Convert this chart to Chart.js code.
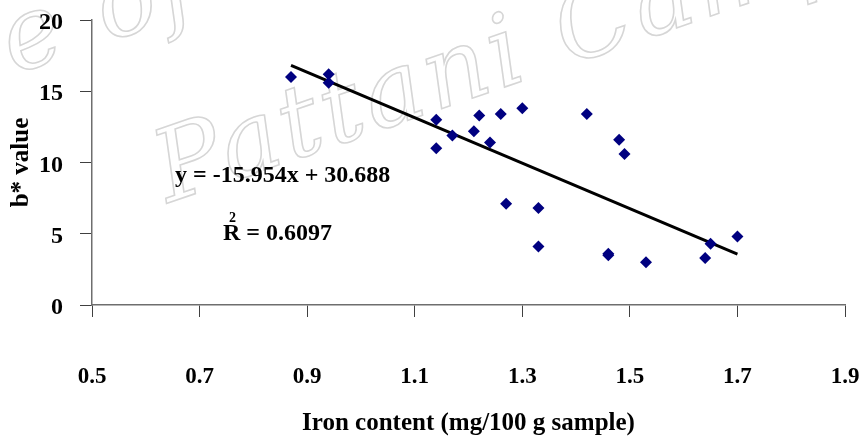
<!DOCTYPE html>
<html>
<head>
<meta charset="utf-8">
<script src="https://cdn.jsdelivr.net/npm/chart.js@4.4.0/dist/chart.umd.min.js"></script>
<style>
  html, body { margin: 0; padding: 0; background: #fff; }
  #caixa { width: 862px; height: 439px; }
</style>
</head>
<body>
<div id="caixa"><canvas id="grafico" width="862" height="439"></canvas></div>
<script>
// teor de ferro (mg/100 g) e valor b* de cada amostra
const teorFerro = [0.87, 0.94, 0.94, 1.14, 1.14, 1.17, 1.21, 1.22, 1.24, 1.26, 1.30, 1.27,
  1.33, 1.33, 1.42, 1.48, 1.49, 1.46, 1.46, 1.53, 1.64, 1.65, 1.70];
const valorB = [16.0, 16.2, 15.6, 13.0, 11.0, 11.9, 12.2, 13.3, 11.4, 13.4, 13.8, 7.1,
  6.8, 4.1, 13.4, 11.6, 10.6, 3.6, 3.5, 3.0, 3.3, 4.3, 4.8];

// linha de tendência linear
const inclinacao = -15.954;
const intercepto = 30.688;
const r2 = 0.6097;

const ticksX = [0.5, 0.7, 0.9, 1.1, 1.3, 1.5, 1.7, 1.9];
const ticksY = [0, 5, 10, 15, 20];

const fonte = '"Liberation Serif", "Times New Roman", serif';

const pontos = teorFerro.map((x, i) => ({ x: x, y: valorB[i] }));
const xMin = Math.min(...teorFerro);
const xMax = Math.max(...teorFerro);
const linha = [xMin, xMax].map(x => ({ x: x, y: inclinacao * x + intercepto }));

// marca d'água ao fundo
const marcaDagua = {
  id: "marcaDagua",
  beforeDraw(chart) {
    const c = chart.ctx;
    c.save();
    c.fillStyle = "#fff";
    c.fillRect(0, 0, chart.width, chart.height);
    c.translate(168, 203);
    c.rotate(-19 * Math.PI / 180);
    c.font = "italic 100px 'DejaVu Serif'";
    c.letterSpacing = "4px";
    c.strokeStyle = "#d6d6d6";
    c.lineWidth = 1.6;
    c.strokeText("Pattani Campus", 0, 0);
    c.textAlign = "right";
    c.strokeText("Prince of", 100, -172);
    c.restore();
  }
};

// texto da equação e do R²
const equacao = {
  id: "equacao",
  afterDatasetsDraw(chart) {
    const c = chart.ctx;
    c.save();
    c.fillStyle = "#000";
    c.textBaseline = "alphabetic";
    c.font = "bold 24px " + fonte;
    const sinal = intercepto >= 0 ? " + " : " - ";
    c.fillText("y = " + inclinacao.toFixed(3) + "x" + sinal + Math.abs(intercepto).toFixed(3), 175, 182);
    c.fillText("R", 223, 240);
    const larguraR = c.measureText("R").width;
    c.fillText(" = " + r2.toFixed(4), 223 + larguraR, 240);
    c.font = "bold 14px " + fonte;
    c.fillText("2", 229, 222);
    c.restore();
  }
};

const ctx = document.getElementById("grafico").getContext("2d");

new Chart(ctx, {
  type: "scatter",
  data: {
    datasets: [
      {
        label: "b* value",
        data: pontos,
        pointStyle: "rectRot",
        pointRadius: 6,
        pointHoverRadius: 6,
        backgroundColor: "#000080",
        borderColor: "#000080",
        borderWidth: 0
      },
      {
        type: "line",
        label: "Linear",
        data: linha,
        borderColor: "#000",
        borderWidth: 3,
        pointRadius: 0,
        fill: false,
        tension: 0
      }
    ]
  },
  options: {
    responsive: false,
    animation: false,
    layout: {
      padding: { top: 20, right: 17, left: 0, bottom: 0 }
    },
    plugins: {
      legend: { display: false },
      tooltip: { enabled: false }
    },
    scales: {
      x: {
        type: "linear",
        min: ticksX[0],
        max: ticksX[ticksX.length - 1],
        afterFit: (s) => {
          s.height = 134;
          s.paddingLeft = 0;
          s.paddingRight = 0;
        },
        afterBuildTicks: (s) => { s.ticks = ticksX.map(v => ({ value: v })); },
        ticks: {
          padding: 46,
          color: "#000",
          maxRotation: 0,
          autoSkip: false,
          font: { family: fonte, size: 23, weight: "bold" },
          callback: (v) => Number(v).toFixed(1)
        },
        grid: {
          drawOnChartArea: false,
          tickLength: 12,
          tickColor: "#404040"
        },
        border: { color: "#6e6e6e", width: 1.5 },
        title: {
          display: true,
          text: "Iron content (mg/100 g sample)",
          color: "#000",
          font: { family: fonte, size: 25, weight: "bold" },
          padding: { top: 0, bottom: 0 }
        }
      },
      y: {
        min: ticksY[0],
        max: ticksY[ticksY.length - 1],
        afterFit: (s) => {
          s.width = 92;
          s.paddingTop = 0;
          s.paddingBottom = 0;
        },
        afterBuildTicks: (s) => { s.ticks = ticksY.map(v => ({ value: v })); },
        ticks: {
          padding: 17,
          labelOffset: 3,
          color: "#000",
          font: { family: fonte, size: 24, weight: "bold" }
        },
        grid: {
          drawOnChartArea: false,
          tickLength: 12,
          tickColor: "#404040"
        },
        border: { color: "#6e6e6e", width: 1.5 },
        title: {
          display: true,
          text: "b* value",
          color: "#000",
          font: { family: fonte, size: 25, weight: "bold" },
          padding: { top: 7, bottom: 0 }
        }
      }
    }
  },
  plugins: [marcaDagua, equacao]
});
</script>
</body>
</html>
